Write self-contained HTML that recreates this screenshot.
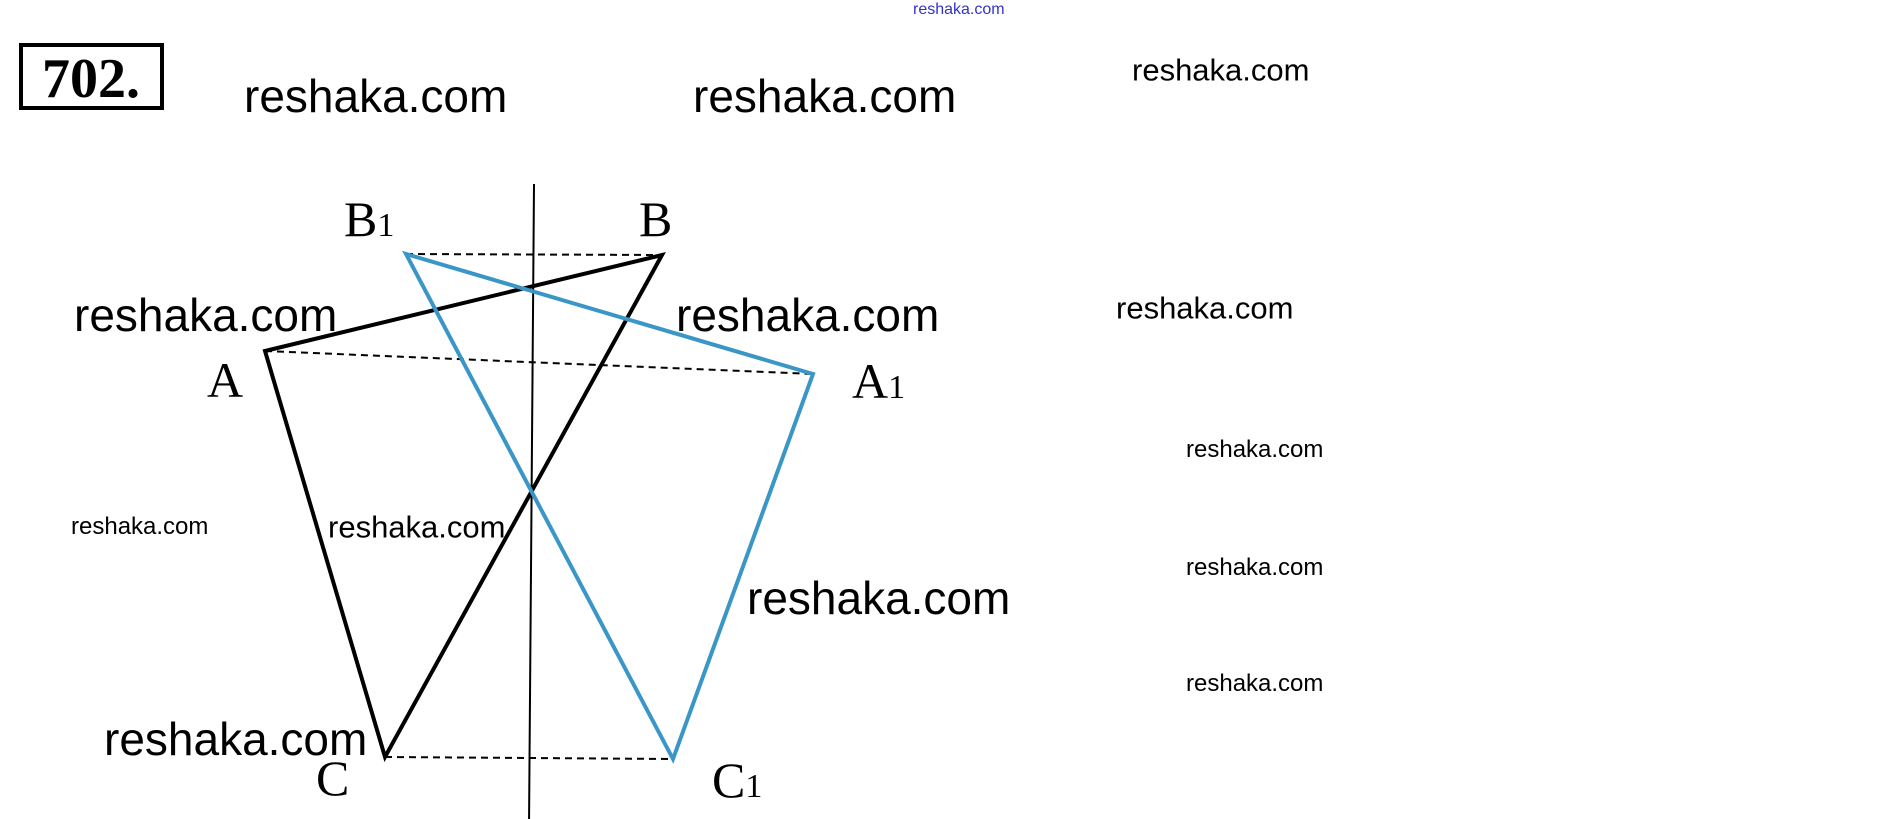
<!DOCTYPE html>
<html><head><meta charset="utf-8"><style>
body{margin:0;background:#fff;width:1904px;height:819px;overflow:hidden;position:relative;font-family:"Liberation Sans",sans-serif}
.w{position:absolute;color:#000;white-space:nowrap;line-height:1;transform:translateY(-50%)}
</style></head><body>
<svg width="1904" height="819" style="position:absolute;left:0;top:0">
<rect x="21" y="45" width="141" height="63" fill="none" stroke="#000" stroke-width="4"/>
<text x="91" y="97" font-family="Liberation Serif" font-weight="bold" font-size="56" text-anchor="middle">702.</text>
<line x1="534" y1="184" x2="529" y2="826" stroke="#000" stroke-width="2"/>
<g stroke="#000" stroke-width="2" stroke-dasharray="7,5">
<line x1="406" y1="254" x2="662" y2="255"/>
<line x1="265" y1="351" x2="813" y2="374"/>
<line x1="385" y1="757" x2="673" y2="759"/>
</g>
<polygon points="265,351 662,255 385,757" fill="none" stroke="#000" stroke-width="4"/>
<polygon points="813,374 406,254 673,759" fill="none" stroke="#3b96c8" stroke-width="4"/>
<g font-family="Liberation Serif" font-size="50">
<text x="344" y="236">B<tspan font-size="34">1</tspan></text>
<text x="639" y="236">B</text>
<text x="207" y="397">A</text>
<text x="852" y="398">A<tspan font-size="34">1</tspan></text>
<text x="316" y="795">C</text>
<text x="712" y="797">C<tspan font-size="34">1</tspan></text>
</g>
</svg>
<div class="w" style="left:913px;top:10px;font-size:16px;color:#3333cc">reshaka.com</div>
<div class="w" style="left:244px;top:96px;font-size:46px">reshaka.com</div>
<div class="w" style="left:693px;top:96px;font-size:46px">reshaka.com</div>
<div class="w" style="left:1132px;top:70px;font-size:31px">reshaka.com</div>
<div class="w" style="left:1116px;top:308px;font-size:31px">reshaka.com</div>
<div class="w" style="left:1186px;top:450px;font-size:24px">reshaka.com</div>
<div class="w" style="left:1186px;top:568px;font-size:24px">reshaka.com</div>
<div class="w" style="left:1186px;top:684px;font-size:24px">reshaka.com</div>
<div class="w" style="left:74px;top:315px;font-size:46px">reshaka.com</div>
<div class="w" style="left:676px;top:315px;font-size:46px">reshaka.com</div>
<div class="w" style="left:71px;top:527px;font-size:24px">reshaka.com</div>
<div class="w" style="left:328px;top:527px;font-size:31px">reshaka.com</div>
<div class="w" style="left:747px;top:598px;font-size:46px">reshaka.com</div>
<div class="w" style="left:104px;top:739px;font-size:46px">reshaka.com</div>
</body></html>
